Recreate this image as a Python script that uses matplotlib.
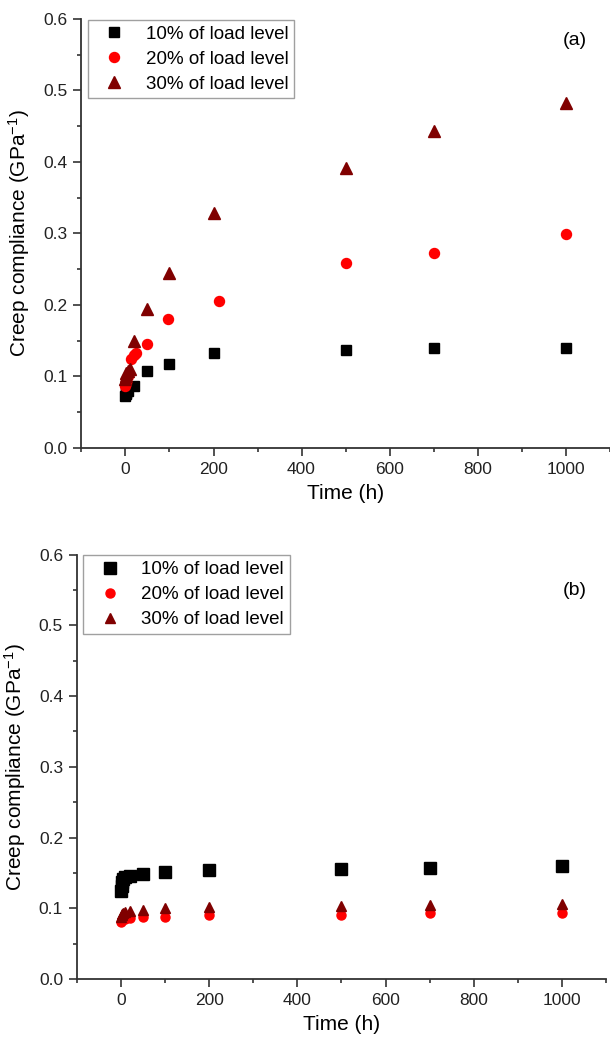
import matplotlib
matplotlib.use('agg')
import matplotlib.pyplot as plt
from matplotlib.ticker import MultipleLocator

plt.rcParams['font.family'] = ['Liberation Sans', 'DejaVu Sans']
plt.rcParams['mathtext.fontset'] = 'custom'
plt.rcParams['mathtext.rm'] = 'Liberation Sans'
plt.rcParams['mathtext.it'] = 'Liberation Sans:italic'

labels = ['10% of load level', '20% of load level', '30% of load level']

# panel (a)
sq_a_t = [0, 1, 2, 5, 20, 50, 100, 200, 500, 700, 1000]
sq_a = [0.073, 0.075, 0.077, 0.079, 0.086, 0.107, 0.117, 0.132, 0.137, 0.140, 0.139]
ci_a_t = [0, 1, 2, 5, 13, 20, 24, 50, 96, 212, 500, 700, 1000]
ci_a = [0.087, 0.091, 0.095, 0.100, 0.124, 0.130, 0.133, 0.145, 0.180, 0.205, 0.258, 0.273, 0.299]
tr_a_t = [0, 1, 2, 5, 10, 20, 50, 100, 200, 500, 700, 1000]
tr_a = [0.096, 0.100, 0.104, 0.107, 0.110, 0.150, 0.194, 0.244, 0.329, 0.392, 0.443, 0.483]

# panel (b)
t_b = [0, 1, 2, 5, 10, 20, 50, 100, 200, 500, 700, 1000]
sq_b = [0.125, 0.131, 0.137, 0.141, 0.144, 0.146, 0.149, 0.152, 0.154, 0.155, 0.157, 0.160]
ci_b = [0.081, 0.083, 0.084, 0.085, 0.085, 0.086, 0.087, 0.088, 0.090, 0.091, 0.093, 0.094]
tr_b = [0.088, 0.090, 0.092, 0.093, 0.095, 0.096, 0.098, 0.100, 0.102, 0.103, 0.104, 0.106]

fig = plt.figure(figsize=(6.10, 10.39), dpi=100)
ax1 = fig.add_axes([0.1336, 0.5691, 0.8656, 0.4126])
ax2 = fig.add_axes([0.1262, 0.0577, 0.8672, 0.4086])


def style(ax, tag, tag_xy):
    for s in ['top', 'right']:
        ax.spines[s].set_visible(False)
    for s in ['left', 'bottom']:
        ax.spines[s].set_linewidth(1.3)
        ax.spines[s].set_color('#333333')
    ax.set_xlim(-100, 1100)
    ax.set_ylim(0, 0.6)
    ax.xaxis.set_major_locator(MultipleLocator(200))
    ax.xaxis.set_minor_locator(MultipleLocator(100))
    ax.yaxis.set_major_locator(MultipleLocator(0.1))
    ax.yaxis.set_minor_locator(MultipleLocator(0.05))
    ax.tick_params(which='major', direction='out', length=6, width=1.2,
                   color='#333333', labelsize=12.5, labelcolor='#222222', pad=4)
    ax.tick_params(which='minor', direction='out', length=3, width=1.2, color='#333333')
    ax.set_yticks([0, 0.1, 0.2, 0.3, 0.4, 0.5, 0.6])
    ax.set_yticklabels(['0.0', '0.1', '0.2', '0.3', '0.4', '0.5', '0.6'])
    ax.set_xlabel('Time (h)', fontsize=15, labelpad=5)
    ax.set_ylabel('Creep compliance (GPa$^{\\mathregular{-1}}$)', fontsize=15, labelpad=8)
    ax.text(tag_xy[0], tag_xy[1], tag, transform=ax.transAxes, fontsize=14,
            ha='center', va='center')
    leg = ax.legend(loc='upper left', bbox_to_anchor=(0.012, 0.998), fontsize=13.5,
                    frameon=True, fancybox=False, edgecolor='#888888',
                    handletextpad=0.6, borderpad=0.3, labelspacing=0.42,
                    handlelength=2.2, borderaxespad=0)
    leg.get_frame().set_linewidth(1.0)


ax1.plot(sq_a_t, sq_a, 's', color='black', ms=7, label=labels[0], clip_on=False)
ax1.plot(ci_a_t, ci_a, 'o', color='red', ms=7.2, label=labels[1], clip_on=False)
ax1.plot(tr_a_t, tr_a, '^', color='#800000', ms=8, label=labels[2], clip_on=False)
style(ax1, '(a)', (0.935, 0.951))

ax2.plot(t_b, sq_b, 's', color='black', ms=8.6, label=labels[0], clip_on=False)
ax2.plot(t_b, ci_b, 'o', color='red', ms=6.5, label=labels[1], clip_on=False)
ax2.plot(t_b, tr_b, '^', color='#800000', ms=7.5, label=labels[2], clip_on=False)
style(ax2, '(b)', (0.941, 0.916))

fig.savefig('out.png', dpi=100)
